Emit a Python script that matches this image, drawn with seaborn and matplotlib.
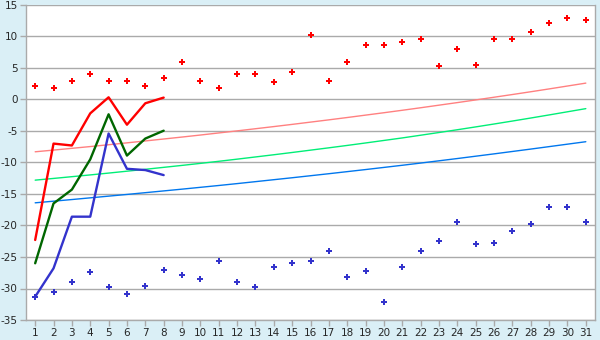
import numpy as np
import pandas as pd
import matplotlib
matplotlib.use("Agg")
import matplotlib.pyplot as plt
import seaborn as sns

days = list(range(1, 32))
line_days = list(range(1, 9))

max_points = [2.1, 1.8, 2.9, 4.0, 2.9, 2.9, 2.1, 3.4, 5.9, 2.9, 1.9, 4.0, 4.0, 2.7, 4.4, 10.2,
              3.0, 5.9, 8.6, 8.6, 9.1, 9.6, 5.3, 8.0, 5.4, 9.6, 9.6, 10.7, 12.1, 13.0, 12.6]
min_points = [-31.3, -30.6, -29.0, -27.4, -29.8, -30.8, -29.6, -27.0, -27.9, -28.5, -25.7, -29.0,
              -29.8, -26.6, -26.0, -25.7, -24.1, -28.2, -27.2, -32.2, -26.6, -24.1, -22.4, -19.5,
              -23.0, -22.8, -20.9, -19.8, -17.0, -17.0, -19.5]

red_line = [-22.3, -7.0, -7.3, -2.2, 0.35, -4.0, -0.6, 0.3]
green_line = [-26.0, -16.5, -14.3, -9.5, -2.35, -8.9, -6.2, -4.95]
blue_line = [-31.3, -26.8, -18.6, -18.6, -5.4, -11.0, -11.2, -12.0]

pink_trend = [-8.3, -8.03, -7.75, -7.47, -7.18, -6.88, -6.58, -6.27, -5.96, -5.64, -5.31, -4.98,
              -4.64, -4.30, -3.95, -3.59, -3.23, -2.86, -2.48, -2.10, -1.71, -1.31, -0.90, -0.49,
              -0.07, 0.36, 0.79, 1.23, 1.68, 2.14, 2.60]
lgreen_trend = [-12.8, -12.53, -12.25, -11.97, -11.68, -11.38, -11.08, -10.77, -10.46, -10.14,
                -9.81, -9.47, -9.12, -8.77, -8.41, -8.04, -7.67, -7.29, -6.90, -6.50, -6.10,
                -5.67, -5.24, -4.80, -4.35, -3.89, -3.42, -2.94, -2.45, -1.95, -1.45]
lblue_trend = [-16.4, -16.14, -15.88, -15.61, -15.34, -15.07, -14.79, -14.51, -14.23, -13.94,
               -13.65, -13.35, -13.04, -12.73, -12.42, -12.10, -11.78, -11.45, -11.12, -10.78,
               -10.44, -10.09, -9.73, -9.37, -9.00, -8.63, -8.25, -7.87, -7.48, -7.09, -6.70]

y_ticks = [15, 10, 5, 0, -5, -10, -15, -20, -25, -30, -35]

bg = "#daeff6"
sns.set_style("white")
plt.rcParams['font.family'] = ['DejaVu Sans']

fig = plt.figure(figsize=(6, 3.4), dpi=100, facecolor=bg)
ax = fig.add_axes([26/600, 1-320/340, (595-26)/600, (320-5)/340])
ax.set_facecolor("white")

for yv in y_ticks:
    ax.axhline(yv, color="#aaaaaa", lw=1.0, zorder=0)

trend_df = pd.DataFrame({"day": days, "pink": pink_trend, "lgreen": lgreen_trend, "lblue": lblue_trend})
sns.lineplot(data=trend_df, x="day", y="pink", color="#ff8080", lw=1.0, ax=ax)
sns.lineplot(data=trend_df, x="day", y="lgreen", color="#00ee77", lw=1.0, ax=ax)
sns.lineplot(data=trend_df, x="day", y="lblue", color="#0077ee", lw=1.0, ax=ax)

line_df = pd.DataFrame({"day": line_days, "red": red_line, "green": green_line, "blue": blue_line})
sns.lineplot(data=line_df, x="day", y="red", color="#ff0000", lw=1.7, ax=ax)
sns.lineplot(data=line_df, x="day", y="green", color="#006600", lw=1.7, ax=ax)
sns.lineplot(data=line_df, x="day", y="blue", color="#3333cc", lw=1.7, ax=ax)

pts_df = pd.DataFrame({"day": days, "mx": max_points, "mn": min_points})
sns.scatterplot(data=pts_df, x="day", y="mx", color="#ff0000", marker="P", s=20,
                linewidth=0, ax=ax, zorder=5)
sns.scatterplot(data=pts_df, x="day", y="mn", color="#3333cc", marker="P", s=16,
                linewidth=0, ax=ax, zorder=5)

ax.set_xlim(0.5, 31.5)
ax.set_ylim(-35, 15)
ax.set_xticks(days)
ax.set_xticklabels([str(d) for d in days], fontsize=7.5)
ax.set_yticks(y_ticks)
ax.set_yticklabels([str(v) for v in y_ticks], fontsize=7.5)
ax.set_xlabel("")
ax.set_ylabel("")
ax.tick_params(axis="both", direction="out", length=4, width=1, color="#aaaaaa", pad=2,
               bottom=True, left=True)
for side in ["left", "bottom", "right"]:
    ax.spines[side].set_color("#aaaaaa")
    ax.spines[side].set_linewidth(1.0)
ax.spines["top"].set_visible(False)

fig.savefig("out.png", dpi=100, facecolor=bg)
